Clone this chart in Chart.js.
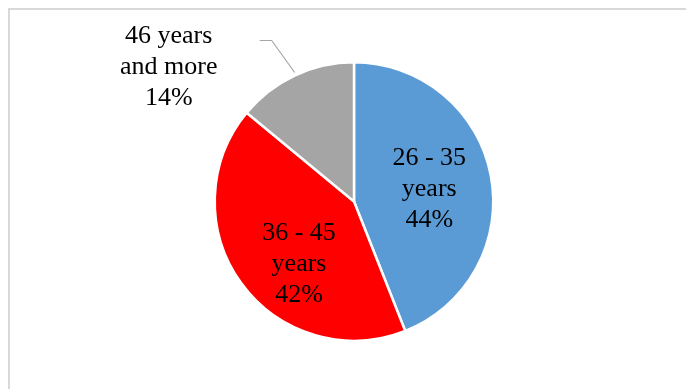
<!DOCTYPE html>
<html>
<head>
<meta charset="utf-8">
<script src="https://cdn.jsdelivr.net/npm/chart.js@4"></script>
<style>
  body { margin: 0; background: #fff; }
  #wrap { position: relative; width: 686px; height: 389px; overflow: hidden; }
  #frame { position: absolute; left: 8px; top: 8px; width: 700px; height: 400px; border: 2px solid #d9d9d9; }
  canvas { position: absolute; left: 0; top: 0; }
</style>
</head>
<body>
<div id="wrap">
  <div id="frame"></div>
  <canvas id="pie" width="686" height="389"></canvas>
</div>
<script>
// age groups and their shares (%)
const grupos = ['26 - 35 years', '36 - 45 years', '46 years and more'];
const valores = [44, 42, 14];
const colores = ['#5b9bd5', '#ff0000', '#a5a5a5'];
// label text, line by line
const etiquetas = [
  ['26 - 35', 'years', '44%'],
  ['36 - 45', 'years', '42%'],
  ['46 years', 'and more', '14%']
];

// where each label sits: fraction of radius and angle shift (deg) from slice middle
const colocacion = [
  { r: 0.55, da: 0, fuera: false },
  { r: 0.59, da: -12, fuera: false },
  { fuera: true }
];

const etiquetasPlugin = {
  id: 'etiquetas',
  afterDatasetsDraw(chart) {
    const ctx = chart.ctx;
    const arcs = chart.getDatasetMeta(0).data;
    ctx.save();
    ctx.font = '26px "Liberation Serif", "Times New Roman", serif';
    ctx.fillStyle = '#000';
    ctx.textAlign = 'center';
    ctx.textBaseline = 'middle';
    const lh = 31;
    arcs.forEach((arc, i) => {
      const p = arc.getProps(['x', 'y', 'startAngle', 'endAngle', 'outerRadius']);
      const mid = (p.startAngle + p.endAngle) / 2;
      const c = colocacion[i];
      const lineas = etiquetas[i];
      if (!c.fuera) {
        const a = mid + c.da * Math.PI / 180;
        const lx = p.x + Math.cos(a) * p.outerRadius * c.r;
        const ly = p.y + Math.sin(a) * p.outerRadius * c.r + 2;
        lineas.forEach((t, k) => ctx.fillText(t, lx, ly + (k - 1) * lh));
      } else {
        // leader line from slice edge out to the label
        const ex = p.x + Math.cos(mid) * p.outerRadius;
        const ey = p.y + Math.sin(mid) * p.outerRadius;
        const bx = ex - 23, by = ey - 35;
        ctx.strokeStyle = '#a6a6a6';
        ctx.lineWidth = 1.2;
        ctx.beginPath();
        ctx.moveTo(ex, ey - 3);
        ctx.lineTo(bx, by);
        ctx.lineTo(bx - 12, by);
        ctx.stroke();
        const lx = ex - 126, ly = ey - 8;
        lineas.forEach((t, k) => ctx.fillText(t, lx, ly + (k - 1) * lh));
      }
    });
    ctx.restore();
  }
};

new Chart(document.getElementById('pie').getContext('2d'), {
  type: 'pie',
  data: {
    labels: grupos,
    datasets: [{
      data: valores,
      backgroundColor: colores,
      borderColor: '#ffffff',
      borderWidth: 2.5
    }]
  },
  options: {
    responsive: false,
    animation: false,
    layout: { padding: { left: 154, right: 132, top: 61, bottom: 47 } },
    plugins: {
      legend: { display: false },
      tooltip: { enabled: false }
    }
  },
  plugins: [etiquetasPlugin]
});
</script>
</body>
</html>
